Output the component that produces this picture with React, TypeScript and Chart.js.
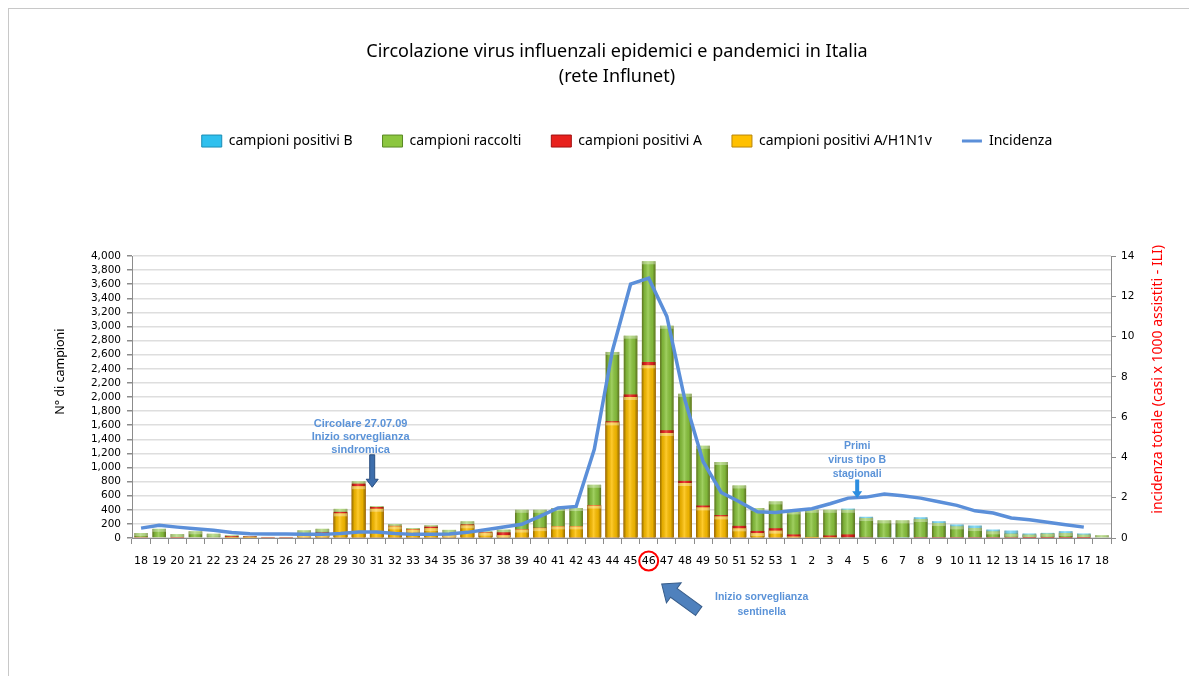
import React, { useEffect, useRef } from 'react';
import { Chart, registerables } from 'chart.js';

Chart.register(...registerables);

// ---------- DATA ----------
const weeks = [
  '18', '19', '20', '21', '22', '23', '24', '25', '26', '27', '28', '29', '30', '31', '32', '33', '34', '35',
  '36', '37', '38', '39', '40', '41', '42', '43', '44', '45', '46', '47', '48', '49', '50', '51', '52', '53',
  '1', '2', '3', '4', '5', '6', '7', '8', '9', '10', '11', '12', '13', '14', '15', '16', '17', '18',
];

const campioniPositiviB = [
  0, 0, 0, 0, 0, 0, 0, 0, 0, 0, 0, 0, 0, 0, 0, 0, 0, 0,
  0, 0, 0, 0, 0, 0, 0, 0, 0, 0, 0, 0, 0, 0, 0, 0, 0, 0,
  0, 0, 0, 415, 300, 200, 200, 292, 236, 190, 175, 118, 104, 62, 72, 95, 62, 0,
];

const campioniRaccolti = [
  70, 130, 55, 95, 60, 38, 28, 15, 15, 108, 130, 413, 803, 451, 197, 140, 180, 115,
  236, 94, 118, 400, 400, 425, 425, 755, 2640, 2870, 3925, 3010, 2045, 1308, 1078, 745, 425, 519,
  377, 400, 400, 400, 283, 250, 250, 269, 212, 165, 141, 94, 61, 47, 61, 70, 47, 38,
];

const campioniPositiviA = [
  15, 10, 5, 10, 10, 25, 20, 5, 5, 60, 80, 370, 770, 440, 172, 128, 160, 60,
  192, 82, 80, 125, 145, 170, 170, 468, 1655, 2035, 2495, 1530, 810, 460, 325, 172, 100, 138,
  50, 15, 35, 50, 15, 10, 10, 5, 5, 5, 5, 5, 5, 3, 3, 3, 3, 0,
];

const campioniPositiviH1N1v = [
  0, 0, 0, 0, 0, 5, 5, 0, 0, 50, 60, 350, 735, 415, 165, 120, 140, 50,
  180, 75, 40, 120, 140, 165, 165, 460, 1640, 2000, 2450, 1490, 780, 434, 306, 137, 70, 104,
  20, 5, 15, 10, 0, 0, 0, 0, 0, 0, 0, 0, 0, 0, 0, 0, 0, 0,
];

const incidenza: (number | null)[] = [
  0.49, 0.63, 0.54, 0.46, 0.38, 0.27, 0.21, 0.2, 0.2, 0.18, 0.18, 0.22, 0.3, 0.3, 0.22, 0.18, 0.18, 0.2,
  0.28, 0.41, 0.55, 0.68, 1.07, 1.49, 1.57, 4.4, 9.3, 12.6, 12.9, 11.0, 6.85, 3.8, 2.26, 1.8, 1.3, 1.27,
  1.37, 1.45, 1.7, 1.98, 2.03, 2.18, 2.1, 1.98, 1.8, 1.62, 1.35, 1.24, 0.99, 0.91, 0.78, 0.66, 0.54, null,
];

const chartTitle = ['Circolazione virus influenzali epidemici e pandemici in Italia', '(rete Influnet)'];
const leftAxisTitle = 'N° di campioni';
const rightAxisTitle = 'incidenza totale (casi x 1000 assistiti - ILI)';
const note1 = ['Circolare 27.07.09', 'Inizio sorveglianza', 'sindromica'];
const note2 = ['Primi', 'virus tipo B', 'stagionali'];
const note3 = ['Inizio sorveglianza', 'sentinella'];

// ---------- LAYOUT ----------
const CANVAS_W = 1175;
const CANVAS_H = 667;
const PLOT_LEFT = 123;
const PLOT_RIGHT = 1102;
const PLOT_TOP = 247;
const PLOT_BOTTOM = 529;

const COLORS = {
  b: '#2fc0ee',
  bEdge: '#1a8db5',
  green: '#8cc63f',
  greenEdge: '#5a8a25',
  red: '#e8211d',
  redEdge: '#a01010',
  yellow: '#ffc000',
  yellowEdge: '#b8860b',
  line: '#5b8fd9',
  note: '#5b93d8',
};

function blockArrow(ctx: CanvasRenderingContext2D, x1: number, y1: number, x2: number, y2: number,
  sw: number, hw: number, hl: number, fill: string, stroke?: string) {
  const ang = Math.atan2(y2 - y1, x2 - x1);
  const len = Math.hypot(x2 - x1, y2 - y1);
  ctx.save();
  ctx.translate(x1, y1);
  ctx.rotate(ang);
  ctx.beginPath();
  ctx.moveTo(0, -sw / 2);
  ctx.lineTo(len - hl, -sw / 2);
  ctx.lineTo(len - hl, -hw / 2);
  ctx.lineTo(len, 0);
  ctx.lineTo(len - hl, hw / 2);
  ctx.lineTo(len - hl, sw / 2);
  ctx.lineTo(0, sw / 2);
  ctx.closePath();
  ctx.fillStyle = fill;
  ctx.fill();
  if (stroke) {
    ctx.strokeStyle = stroke;
    ctx.lineWidth = 1;
    ctx.stroke();
  }
  ctx.restore();
}

const layoutPlugin = {
  id: 'layoutTweaks',
  beforeInit(chart: any) {
    const lg = chart.legend;
    if (lg) {
      const fit = lg.fit;
      lg.fit = function () {
        fit.call(this);
        const titleH = chart.titleBlock ? chart.titleBlock.height || 95 : 0;
        this.height = PLOT_TOP - titleH;
      };
    }
  },
  afterLayout(chart: any) {
    const t = chart.titleBlock;
    if (t) { t.left += 20.5; t.right += 20.5; }
    const l = chart.legend;
    if (l) { l.left += 30.5; l.right += 30.5; }
  },
};

const barLookPlugin = {
  id: 'barLook',
  afterDatasetDraw(chart: any, args: any) {
    const meta = args.meta;
    if (meta.type !== 'bar' || meta.hidden) return;
    const ctx: CanvasRenderingContext2D = chart.ctx;
    const area = chart.chartArea;
    ctx.save();
    ctx.beginPath();
    ctx.rect(area.left, area.top, area.right - area.left, area.bottom - area.top);
    ctx.clip();
    meta.data.forEach((el: any) => {
      const { x, y, base, width } = el.getProps(['x', 'y', 'base', 'width'], true);
      const h = base - y;
      if (!(h > 0.5)) return;
      const l = x - width / 2;
      const g = ctx.createLinearGradient(l, 0, l + width, 0);
      g.addColorStop(0, 'rgba(60,40,0,0.5)');
      g.addColorStop(0.18, 'rgba(0,0,0,0.1)');
      g.addColorStop(0.45, 'rgba(255,255,255,0.18)');
      g.addColorStop(0.78, 'rgba(0,0,0,0.08)');
      g.addColorStop(1, 'rgba(60,40,0,0.5)');
      ctx.fillStyle = g;
      ctx.fillRect(l, y, width, h);
      if (args.index !== 2) {
        ctx.fillStyle = 'rgba(255,255,255,0.35)';
        ctx.fillRect(l, y, width, Math.min(3, h));
      }
    });
    ctx.restore();
  },
};

const notesPlugin = {
  id: 'notes',
  afterDraw(chart: any) {
    const ctx: CanvasRenderingContext2D = chart.ctx;
    const xs = chart.scales.x;
    const ys = chart.scales.y;
    const area = chart.chartArea;
    const xAt = (i: number) => xs.getPixelForValue(i);
    const yAt = (v: number) => ys.getPixelForValue(v);

    ctx.save();
    // axis titles
    ctx.textAlign = 'center';
    ctx.textBaseline = 'middle';
    ctx.fillStyle = '#000';
    ctx.font = '12.5px "Noto Sans"';
    ctx.save();
    ctx.translate(area.left - 72, yAt(2360));
    ctx.rotate(-Math.PI / 2);
    ctx.fillText(leftAxisTitle, 0, 0);
    ctx.restore();

    ctx.fillStyle = '#ff0000';
    ctx.font = '14px "Noto Sans"';
    ctx.save();
    ctx.translate(area.right + 47, yAt(2250));
    ctx.rotate(-Math.PI / 2);
    ctx.fillText(rightAxisTitle, 0, 0);
    ctx.restore();

    // note 1
    ctx.fillStyle = COLORS.note;
    ctx.font = 'bold 11px "Liberation Sans"';
    const n1x = xAt(12) + 2;
    const n1y = yAt(1620);
    note1.forEach((s, i) => ctx.fillText(s, n1x, n1y + i * 13));
    const a1x = xAt(12.75);
    blockArrow(ctx, a1x, yAt(1180), a1x, yAt(720), 5, 12, 8, '#3d6eac', '#2a4f80');

    // note 2
    ctx.font = 'bold 10.5px "Liberation Sans"';
    const n2x = xAt(39.5);
    const n2y = yAt(1310);
    note2.forEach((s, i) => ctx.fillText(s, n2x, n2y + i * 14));
    blockArrow(ctx, n2x, yAt(830), n2x, yAt(565), 4, 10, 7, '#2d8ee0');

    // note 3 (below axis)
    const x46 = xAt(28);
    const b = area.bottom;
    ctx.font = 'bold 10.5px "Liberation Sans"';
    note3.forEach((s, i) => ctx.fillText(s, x46 + 113, b + 59 + i * 15));
    blockArrow(ctx, x46 + 50, b + 73, x46 + 13, b + 46, 11, 25, 15, '#4f81bd', '#385d8a');

    // red circle around week 46
    ctx.beginPath();
    ctx.arc(x46, b + 23, 9.5, 0, Math.PI * 2);
    ctx.strokeStyle = '#ff0000';
    ctx.lineWidth = 2;
    ctx.stroke();
    ctx.restore();
  },
};

export default function App() {
  const ref = useRef<HTMLCanvasElement | null>(null);

  useEffect(() => {
    if (!ref.current) return;
    const barCommon = { borderWidth: 0, yAxisID: 'y', grouped: false, barPercentage: 0.75, categoryPercentage: 1 };
    const chart = new Chart(ref.current, {
      type: 'bar',
      data: {
        labels: weeks,
        datasets: [
          { ...barCommon, type: 'bar', label: 'campioni positivi B', data: campioniPositiviB,
            backgroundColor: COLORS.b, borderColor: COLORS.bEdge, order: 4 } as any,
          { ...barCommon, type: 'bar', label: 'campioni raccolti', data: campioniRaccolti,
            backgroundColor: COLORS.green, borderColor: COLORS.greenEdge, order: 3 } as any,
          { ...barCommon, type: 'bar', label: 'campioni positivi A', data: campioniPositiviA,
            backgroundColor: COLORS.red, borderColor: COLORS.redEdge, order: 2 } as any,
          { ...barCommon, type: 'bar', label: 'campioni positivi A/H1N1v', data: campioniPositiviH1N1v,
            backgroundColor: COLORS.yellow, borderColor: COLORS.yellowEdge, order: 1 } as any,
          {
            type: 'line',
            label: 'Incidenza',
            data: incidenza,
            borderColor: COLORS.line,
            backgroundColor: COLORS.line,
            borderWidth: 3.5,
            pointRadius: 0,
            tension: 0,
            yAxisID: 'y1',
            order: 0,
            spanGaps: false,
          } as any,
        ],
      },
      options: {
        responsive: false,
        animation: false,
        devicePixelRatio: 1,
        layout: { padding: 0 },
        plugins: {
          title: {
            display: true,
            text: chartTitle,
            color: '#000',
            font: { family: '"Noto Sans"', size: 18, weight: 'normal', lineHeight: 1.39 },
            padding: { top: 30, bottom: 15 },
          },
          legend: {
            display: true,
            position: 'top',
            labels: {
              color: '#000',
              font: { family: '"Noto Sans"', size: 14 },
              usePointStyle: true,
              pointStyleWidth: 20,
              boxWidth: 20,
              boxHeight: 12,
              padding: 30,
              sort: (a: any, b: any) => a.datasetIndex - b.datasetIndex,
              generateLabels: (c: any) => {
                const items = (Chart.defaults.plugins.legend.labels as any).generateLabels(c);
                return items.map((it: any) => {
                  const ds: any = c.data.datasets[it.datasetIndex];
                  if (ds.type === 'line') {
                    return { ...it, pointStyle: 'line', lineWidth: 3, strokeStyle: ds.borderColor, fillStyle: ds.borderColor };
                  }
                  return { ...it, pointStyle: 'rect', lineWidth: 1, strokeStyle: ds.borderColor, fillStyle: ds.backgroundColor };
                });
              },
            },
          },
          tooltip: { enabled: false },
        },
        scales: {
          x: {
            offset: true,
            grid: { display: true, drawOnChartArea: false, offset: true, tickLength: 6, tickColor: '#8c8c8c' },
            border: { display: true, color: '#8c8c8c' },
            ticks: {
              autoSkip: false,
              maxRotation: 0,
              minRotation: 0,
              padding: 11,
              color: '#000',
              font: { family: '"DejaVu Sans"', size: 11 },
            },
            afterFit: (s: any) => { s.height = CANVAS_H - PLOT_BOTTOM; },
          },
          y: {
            position: 'left',
            min: 0,
            max: 4000,
            grid: { color: '#dedede', lineWidth: 1.5, tickColor: '#8c8c8c', tickLength: 5 },
            border: { display: true, color: '#8c8c8c' },
            ticks: {
              stepSize: 200,
              autoSkip: false,
              padding: 6,
              color: '#000',
              font: { family: '"DejaVu Sans"', size: 10.5 },
              callback: (v: any) => Number(v).toLocaleString('en-US'),
            },
            afterFit: (s: any) => { s.width = PLOT_LEFT; },
          },
          y1: {
            position: 'right',
            min: 0,
            max: 14,
            grid: { drawOnChartArea: false, tickColor: '#8c8c8c', tickLength: 5 },
            border: { display: true, color: '#8c8c8c' },
            ticks: {
              stepSize: 2,
              autoSkip: false,
              padding: 5,
              color: '#000',
              font: { family: '"DejaVu Sans"', size: 10.5 },
            },
            afterFit: (s: any) => { s.width = CANVAS_W - PLOT_RIGHT; },
          },
        },
      } as any,
      plugins: [layoutPlugin, barLookPlugin, notesPlugin],
    });
    return () => chart.destroy();
  }, []);

  return (
    <div style={{ position: 'relative', height: CANVAS_H + 1 }}>
      <div style={{ position: 'absolute', left: 0, top: 0, width: 1, height: CANVAS_H + 1, background: '#c8c8c8' }} />
      <div style={{ position: 'absolute', left: 0, top: 0, right: 0, height: 1, background: '#c8c8c8' }} />
      <canvas ref={ref} width={CANVAS_W} height={CANVAS_H}
        style={{ position: 'absolute', left: 1, top: 1, display: 'block', width: CANVAS_W, height: CANVAS_H }} />
    </div>
  );
}
